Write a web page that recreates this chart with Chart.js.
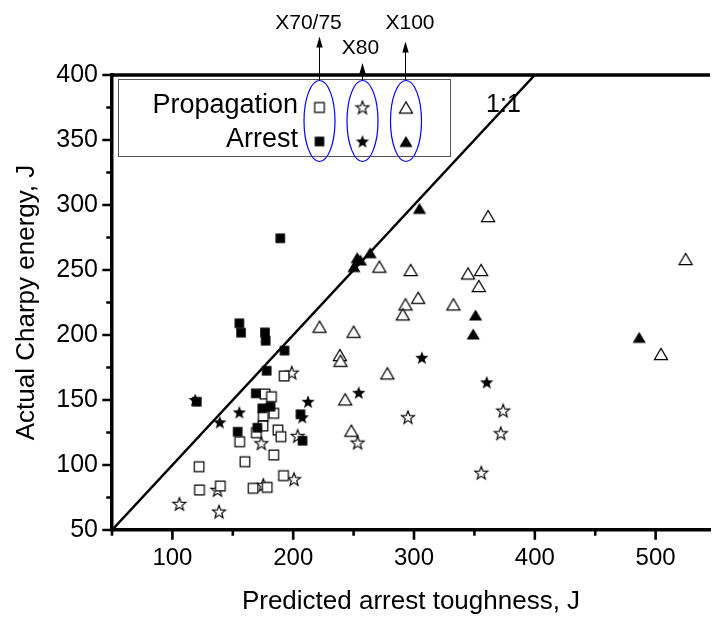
<!DOCTYPE html>
<html>
<head>
<meta charset="utf-8">
<script src="https://cdn.jsdelivr.net/npm/chart.js@4.4.0/dist/chart.umd.min.js"></script>
<style>
html,body{margin:0;padding:0;background:#fff;}
#wrap{width:717px;height:617px;}
</style>
</head>
<body>
<div id="wrap"><canvas id="chart" width="717" height="617"></canvas></div>
<script>
const FONT = "'Liberation Sans', Arial, sans-serif";

// X70/75 steel
const sqPropX = [192.5,176.6,182,183.9,175.2,174.9,169.5,187.4,189.8,155.7,183.9,160,122.1,192,139.7,122.4,166.8,178.5];
const sqPropY = [168.5,154.6,152.5,139.8,137.7,130,124.8,126.9,121.8,117.9,107.7,102.5,98.7,91.8,83.8,80.8,82.1,82.8];
const sqArrX = [189.3,155.4,156.8,176.6,177.2,192.8,178,120.2,169,174.4,181.2,154,170.3,206,207.7];
const sqArrY = [274.4,209,201.8,202,195.6,188,172.5,148.7,155.1,143.6,144.9,125.6,128.7,139,118.7];

// X80 steel
const starPropX = [198.8,173.6,203.7,200.7,137.3,175.2,105.8,138.6,295,373.8,371.8,253.3,355.7];
const starPropY = [171,116.7,122.3,89,80.8,84.6,70,64.1,136.7,141.8,124.4,117.2,94];
const starArrX = [118.9,139.2,155.4,212.3,207.5,306.5,254.2,360.2];
const starArrY = [150,132.8,140.5,148.7,136.7,182.5,155.6,163.6];

// X100 steel
const triPropX = [221.8,361.3,524.8,271.3,297.2,344.7,355.5,353.6,303.4,292.9,290.7,332.6,250,238.6,239.1,277.9,243,248.1,504.4];
const triPropY = [206.4,291.5,258.5,252.6,250,247.4,250,237.7,228.7,223.6,215.9,223.6,202.5,184.6,180.2,170.5,150.5,126.4,185.4];
const triArrX = [304.5,263.7,253,255.6,250.3,350.9,349,486.4];
const triArrY = [297.4,263.3,259.5,257.7,252.6,215.4,200.8,198.2];

// 1:1 reference line
const diagX = [50, 400];
const diagY = [50, 400];

// axis ticks (labels only on the major ones)
const xTicks = [50,100,150,200,250,300,350,400,450,500];
const yTicks = [50,75,100,125,150,175,200,225,250,275,300,325,350,375,400];
const xLabelled = [100,200,300,400,500];
const yLabelled = [50,100,150,200,250,300,350,400];

const grades = ['X70/75', 'X80', 'X100'];
const rowNames = ['Propagation', 'Arrest'];

function pairs(xs, ys){
	let out = [];
	for(let i=0;i<xs.length;i++) out.push({x: xs[i], y: ys[i]});
	return out;
}

// marker images, so the same glyph is used in the plot and in the key
function makeMarker(kind, filled){
	const size = 18;
	const c = document.createElement('canvas');
	c.width = size; c.height = size;
	const g = c.getContext('2d');
	const m = size/2;
	g.beginPath();
	if(kind == 'square'){
		g.rect(m-4.8, m-4.8, 9.6, 9.6);
	} else if(kind == 'star'){
		const ro = filled ? 7 : 6.8, ri = ro*0.42;
		for(let k=0;k<10;k++){
			const r = k%2==0 ? ro : ri;
			const a = -Math.PI/2 + k*Math.PI/5;
			const px = m + r*Math.cos(a), py = m + 0.5 + r*Math.sin(a);
			if(k==0) g.moveTo(px,py); else g.lineTo(px,py);
		}
		g.closePath();
	} else {
		g.moveTo(m, m-5.6);
		g.lineTo(m+6.6, m+5.6);
		g.lineTo(m-6.6, m+5.6);
		g.closePath();
	}
	if(filled){
		g.fillStyle = '#000';
		g.fill();
	} else {
		g.fillStyle = '#fff';
		g.fill();
		g.lineWidth = 1.2;
		g.strokeStyle = '#000';
		g.stroke();
	}
	return c;
}

const markers = {
	sqOpen: makeMarker('square', false), sqFull: makeMarker('square', true),
	starOpen: makeMarker('star', false), starFull: makeMarker('star', true),
	triOpen: makeMarker('triangle', false), triFull: makeMarker('triangle', true)
};

function scatterSet(label, xs, ys, img){
	return {
		type: 'scatter',
		label: label,
		data: pairs(xs, ys),
		pointStyle: img,
		pointRadius: 6,
		pointHoverRadius: 6,
		order: 1
	};
}

// frame top, tick marks, key box with grade ellipses and arrows, 1:1 label
const decorations = {
	id: 'decorations',
	afterDraw(chart){
		const ctx = chart.ctx;
		const ca = chart.chartArea;
		const xs = chart.scales.x, ys = chart.scales.y;
		ctx.save();

		ctx.strokeStyle = '#000';
		ctx.lineWidth = 3.5;
		ctx.beginPath();
		ctx.moveTo(ca.left - 1.7, ca.top);
		ctx.lineTo(ca.right, ca.top);
		ctx.stroke();

		ctx.lineWidth = 2.6;
		ctx.beginPath();
		xTicks.forEach(v => {
			const px = xs.getPixelForValue(v);
			const len = xLabelled.includes(v) ? 8 : 4;
			ctx.moveTo(px, ca.bottom);
			ctx.lineTo(px, ca.bottom + 1.7 + len);
		});
		yTicks.forEach(v => {
			const py = ys.getPixelForValue(v);
			const len = yLabelled.includes(v) ? 8 : 4;
			ctx.moveTo(ca.left, py);
			ctx.lineTo(ca.left - 1.7 - len, py);
		});
		ctx.stroke();

		// key
		const bx = ca.left + 6, by = ca.top + 4;
		ctx.lineWidth = 1;
		ctx.strokeStyle = '#555';
		ctx.strokeRect(bx + 0.5, by + 0.5, 332, 77);

		ctx.fillStyle = '#000';
		ctx.font = '27px ' + FONT;
		ctx.textAlign = 'right';
		ctx.textBaseline = 'alphabetic';
		ctx.fillText(rowNames[0], bx + 180, by + 34);
		ctx.fillText(rowNames[1], bx + 180, by + 68);

		const cols = [bx + 201.5, bx + 244.5, bx + 288];
		const rowsY = [by + 28.5, by + 62.5];
		const keyImgs = [[markers.sqOpen, markers.starOpen, markers.triOpen],
		                 [markers.sqFull, markers.starFull, markers.triFull]];
		for(let r=0;r<2;r++){
			for(let k=0;k<3;k++){
				const img = keyImgs[r][k];
				ctx.drawImage(img, cols[k] - img.width/2, rowsY[r] - img.height/2);
			}
		}

		// ellipses around each grade column
		ctx.strokeStyle = '#0000ff';
		ctx.lineWidth = 1.2;
		cols.forEach(cx => {
			ctx.beginPath();
			ctx.ellipse(cx, by + 42, 15.5, 40.5, 0, 0, Math.PI*2);
			ctx.stroke();
		});

		// arrows up to the grade names
		const tips = [36.5, 63, 41.5];
		const nameY = [23, 48, 23];
		const nameDx = [-11, -2, 4];
		ctx.strokeStyle = '#000';
		ctx.fillStyle = '#000';
		ctx.lineWidth = 1;
		ctx.font = '21px ' + FONT;
		ctx.textAlign = 'center';
		ctx.textBaseline = 'middle';
		cols.forEach((cx, k) => {
			const x0 = Math.round(cx) - 0.5;
			ctx.beginPath();
			ctx.moveTo(x0, by + 1.5);
			ctx.lineTo(x0, tips[k] + 8);
			ctx.stroke();
			ctx.beginPath();
			ctx.moveTo(x0, tips[k]);
			ctx.lineTo(x0 + 3.2, tips[k] + 11);
			ctx.lineTo(x0 - 3.2, tips[k] + 11);
			ctx.closePath();
			ctx.fill();
			ctx.fillText(grades[k], cx + nameDx[k], nameY[k]);
		});

		// 1:1 label
		ctx.font = '25px ' + FONT;
		ctx.fillText('1:1', xs.getPixelForValue(374), ys.getPixelForValue(377));

		ctx.restore();
	}
};

const ctx = document.getElementById('chart').getContext('2d');
const chart = new Chart(ctx, {
	type: 'scatter',
	data: {
		datasets: [
			{
				type: 'line',
				label: '1:1',
				data: pairs(diagX, diagY),
				borderColor: '#000',
				borderWidth: 2.5,
				pointRadius: 0,
				fill: false,
				order: 5
			},
			scatterSet('X70/75 Arrest', sqArrX, sqArrY, markers.sqFull),
			scatterSet('X80 Arrest', starArrX, starArrY, markers.starFull),
			scatterSet('X100 Arrest', triArrX, triArrY, markers.triFull),
			scatterSet('X70/75 Propagation', sqPropX, sqPropY, markers.sqOpen),
			scatterSet('X80 Propagation', starPropX, starPropY, markers.starOpen),
			scatterSet('X100 Propagation', triPropX, triPropY, markers.triOpen)
		]
	},
	options: {
		responsive: false,
		animation: false,
		layout: { padding: { top: 75, right: 0, left: 0, bottom: 0 } },
		plugins: {
			legend: { display: false },
			tooltip: { enabled: false }
		},
		scales: {
			x: {
				type: 'linear',
				min: 50,
				max: 545,
				afterFit: s => { s.height = 87; },
				afterBuildTicks: s => { s.ticks = xTicks.map(v => ({value: v})); },
				border: { display: true, color: '#000', width: 3.5 },
				grid: { drawOnChartArea: false, drawTicks: true, tickLength: 8, tickColor: 'rgba(0,0,0,0)' },
				ticks: {
					color: '#000',
					padding: 6,
					maxRotation: 0,
					autoSkip: false,
					font: { family: FONT, size: 24 },
					callback: v => xLabelled.includes(v) ? String(v) : ''
				},
				title: {
					display: true,
					text: 'Predicted arrest toughness, J',
					color: '#000',
					font: { family: FONT, size: 26 },
					padding: { top: 0, bottom: 0 }
				}
			},
			y: {
				type: 'linear',
				min: 50,
				max: 400,
				afterFit: s => { s.width = 112; },
				afterBuildTicks: s => { s.ticks = yTicks.map(v => ({value: v})); },
				border: { display: true, color: '#000', width: 3.5 },
				grid: { drawOnChartArea: false, drawTicks: true, tickLength: 8, tickColor: 'rgba(0,0,0,0)' },
				ticks: {
					color: '#000',
					padding: 6,
					autoSkip: false,
					font: { family: FONT, size: 25 },
					callback: v => yLabelled.includes(v) ? String(v) : ''
				},
				title: {
					display: true,
					text: 'Actual Charpy energy, J',
					color: '#000',
					font: { family: FONT, size: 26 },
					padding: { top: 11, bottom: 0 }
				}
			}
		}
	},
	plugins: [decorations]
});
</script>
</body>
</html>
